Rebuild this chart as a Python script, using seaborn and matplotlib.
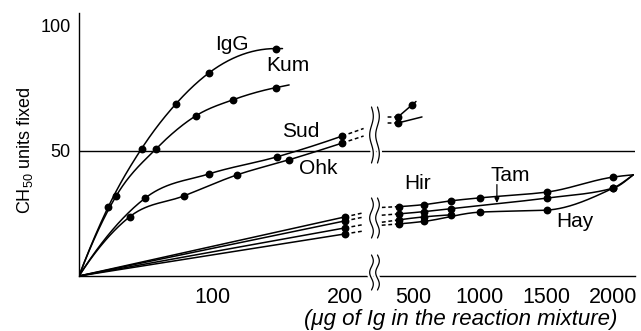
import numpy as np
import matplotlib
matplotlib.use("Agg")
import matplotlib.pyplot as plt
import seaborn as sns
from matplotlib.lines import Line2D

# ---------------- data ----------------
# low-dose range (0-200 ug of Ig); every curve starts at the origin
igg_x = [22, 47, 73, 98, 148]
igg_y = [27.6, 50.8, 68.8, 81.2, 90.8]
kum_x = [28, 58, 88, 116, 148]
kum_y = [32.0, 50.8, 64.0, 70.4, 75.2]
sud_x = [50, 98, 149, 198]
sud_y = [31.2, 40.8, 47.6, 55.9]
ohk_x = [38, 79, 119, 158, 198]
ohk_y = [23.6, 32.0, 40.4, 46.4, 53.1]

# high-dose range (beyond the axis break)
sud_hi_x = [385, 490]
sud_hi_y = [63.5, 68.3]
ohk_hi_x = [385]
ohk_hi_y = [61.1]
ohk_hi_end = (565, 63.5)

low_x = [200]
hir_lo_y = [23.6]
tam_lo_y = [22.0]
mid_lo_y = [19.2]
hay_lo_y = [16.8]

hir_x = [390, 580, 780, 1000, 1500, 2000]
hir_y = [27.7, 28.5, 30.0, 31.2, 33.5, 39.5]
tam_x = [390, 580, 780, 1500, 2000]
tam_y = [24.8, 25.7, 26.9, 31.1, 35.1]
mid_x = [390, 580, 780]
mid_y = [22.4, 23.6, 24.4]
hay_x = [390, 580, 1000, 1500, 2000]
hay_y = [20.8, 21.8, 25.5, 26.3, 35.1]
low_end = (2150, 40.4)

y_ticks = [50, 100]
x_ticks_lo = [100, 200]
x_ticks_hi = [500, 1000, 1500, 2000]
reference_level = 50


# ---------------- interpolation helpers ----------------
def knot_slopes(x, y, kind):
    h = np.diff(x)
    d = np.diff(y) / h
    n = len(x)
    m = np.zeros(n)
    if n == 2:
        m[:] = d[0]
        return m
    for k in range(1, n - 1):
        if kind == "bessel":
            m[k] = (h[k] * d[k - 1] + h[k - 1] * d[k]) / (h[k - 1] + h[k])
        elif d[k - 1] * d[k] > 0:
            w1 = 2 * h[k] + h[k - 1]
            w2 = h[k] + 2 * h[k - 1]
            m[k] = (w1 + w2) / (w1 / d[k - 1] + w2 / d[k])

    def end(h0, h1, d0, d1):
        s = ((2 * h0 + h1) * d0 - h0 * d1) / (h0 + h1)
        if np.sign(s) != np.sign(d0):
            s = 0.0
        elif np.sign(d0) != np.sign(d1) and abs(s) > 3 * abs(d0):
            s = 3 * d0
        return s

    m[0] = end(h[0], h[1], d[0], d[1])
    m[-1] = end(h[-1], h[-2], d[-1], d[-2])
    return m


def smooth(x, y, xs, kind="pchip"):
    x = np.asarray(x, float)
    y = np.asarray(y, float)
    m = knot_slopes(x, y, kind)
    out = np.empty(len(xs))
    for i, t in enumerate(xs):
        if t <= x[0]:
            out[i] = y[0] + m[0] * (t - x[0])
        elif t >= x[-1]:
            out[i] = y[-1] + m[-1] * (t - x[-1])
        else:
            k = min(np.searchsorted(x, t) - 1, len(x) - 2)
            h = x[k + 1] - x[k]
            s = (t - x[k]) / h
            h00 = 2 * s**3 - 3 * s**2 + 1
            h10 = s**3 - 2 * s**2 + s
            h01 = -2 * s**3 + 3 * s**2
            h11 = s**3 - s**2
            out[i] = h00 * y[k] + h10 * h * m[k] + h01 * y[k + 1] + h11 * h * m[k + 1]
    return out, m


LW = 1.1
DASH = (0, (2.5, 1.8))


def draw_curve(ax, vx, vy, tail=0.0, kind="pchip"):
    xs = np.linspace(vx[0], vx[-1] + tail, 300)
    ys, m = smooth(vx, vy, xs, kind)
    sns.lineplot(x=xs, y=ys, ax=ax, color="black", lw=LW, sort=False,
                 estimator=None)
    return m


def draw_dots(ax, x, y):
    sns.scatterplot(x=x, y=y, ax=ax, color="black", s=32, linewidth=0,
                    zorder=4, legend=False)


def stub(ax, x0, y0, slope, x1):
    xs = np.array([x0, x1])
    ys = y0 + slope * (xs - x0)
    sns.lineplot(x=xs, y=ys, ax=ax, color="black", lw=LW, sort=False,
                 estimator=None, linestyle=DASH)


# ---------------- figure ----------------
sns.set_theme(style="white")
plt.rcParams["font.family"] = ["Liberation Sans", "DejaVu Sans"]
plt.rcParams["mathtext.fontset"] = "custom"
plt.rcParams["mathtext.rm"] = "Liberation Sans"
plt.rcParams["axes.linewidth"] = 1.0

W, H = 641, 331
fig = plt.figure(figsize=(W / 100, H / 100), dpi=100)
fig.patch.set_facecolor("white")

y0_px, y1_px = 276, 13


def box(x0, x1):
    return [x0 / W, (H - y0_px) / H, (x1 - x0) / W, (y0_px - y1_px) / H]


axL = fig.add_axes(box(79, 370))
axR = fig.add_axes(box(370, 635))
for ax in (axL, axR):
    ax.set_ylim(0, 105)
    ax.set_facecolor("none")
    for s in ("top", "right"):
        ax.spines[s].set_visible(False)
    ax.spines["bottom"].set_color("black")
    ax.axhline(reference_level, color="black", lw=1.0, zorder=1)
axL.set_xlim(0, 218.8)
axR.set_xlim(175, 2163)
axL.spines["left"].set_color("black")
axR.spines["left"].set_visible(False)

# low-dose curves (smooth, from the origin)
draw_curve(axL, [0] + igg_x, [0] + igg_y, tail=5, kind="bessel")
draw_curve(axL, [0] + kum_x, [0] + kum_y, tail=10, kind="bessel")
m_sud = draw_curve(axL, [0] + sud_x, [0] + sud_y, kind="bessel")
m_ohk = draw_curve(axL, [0] + ohk_x, [0] + ohk_y, kind="bessel")
for x, y in ((igg_x, igg_y), (kum_x, kum_y), (sud_x, sud_y), (ohk_x, ohk_y)):
    draw_dots(axL, x, y)
stub(axL, sud_x[-1], sud_y[-1], m_sud[-1], 214)
stub(axL, ohk_x[-1], ohk_y[-1], m_ohk[-1], 214)

# lower group, straight from the origin to 200
for ly in (hir_lo_y, tam_lo_y, mid_lo_y, hay_lo_y):
    xs = np.array([0] + low_x, float)
    ys = np.array([0] + ly, float)
    sns.lineplot(x=xs, y=ys, ax=axL, color="black", lw=LW, sort=False,
                 estimator=None)
    draw_dots(axL, low_x, ly)
    stub(axL, low_x[-1], ly[-1], ly[-1] / low_x[-1], 214)

# high-dose side
m = draw_curve(axR, sud_hi_x, sud_hi_y, tail=30)
draw_dots(axR, sud_hi_x, sud_hi_y)
stub(axR, sud_hi_x[0], sud_hi_y[0], 0.0, 300)

ox = ohk_hi_x + [ohk_hi_end[0]]
oy = ohk_hi_y + [ohk_hi_end[1]]
m = draw_curve(axR, ox, oy)
draw_dots(axR, ohk_hi_x, ohk_hi_y)
stub(axR, ox[0], oy[0], 0.0, 300)

curves_hi = {}
for name, cx, cy, to_end in (("hir", hir_x, hir_y, True),
                             ("tam", tam_x, tam_y, True),
                             ("mid", mid_x, mid_y, False),
                             ("hay", hay_x, hay_y, True)):
    vx = list(cx) + ([low_end[0]] if to_end else [])
    vy = list(cy) + ([low_end[1]] if to_end else [])
    m = draw_curve(axR, vx, vy)
    draw_dots(axR, cx, cy)
    stub(axR, vx[0], vy[0], m[0], 262)
    curves_hi[name] = (vx, vy)

# ticks
tick_kw = dict(direction="in", length=4, width=1.0, color="black")
axL.set_yticks(y_ticks)
axL.set_yticklabels([str(v) for v in y_ticks], fontsize=13)
axL.tick_params(axis="y", pad=6, **tick_kw)
axL.set_xticks(x_ticks_lo)
axL.set_xticks(np.arange(20, 200, 20), minor=True)
axL.set_xticklabels([str(v) for v in x_ticks_lo], fontsize=15.5)
axL.tick_params(axis="x", which="both", pad=8, **tick_kw)
axR.set_yticks([])
axR.set_xticks(x_ticks_hi)
axR.set_xticklabels([str(v) for v in x_ticks_hi], fontsize=15.5)
axR.tick_params(axis="x", pad=8, **tick_kw)
for ax in (axL, axR):
    ax.tick_params(axis="both", labelcolor="black")

# curve labels
lab = dict(fontsize=15, color="black", ha="center", va="center")
axL.text(115, 92.6, "IgG", **lab)
axL.text(157, 84.2, "Kum", **lab)
axL.text(167, 57.5, "Sud", **lab)
axL.text(180, 43.1, "Ohk", **lab)
axR.text(535, 37.1, "Hir", **lab)
axR.text(1225, 40.0, "Tam", **lab)
axR.text(1712, 21.6, "Hay", **lab)

# arrow from the Tam label down to its curve
ax_arrow = 1127
tip, _ = smooth(*curves_hi["tam"], [ax_arrow])
axR.annotate("", xy=(ax_arrow, tip[0] + 0.3), xytext=(ax_arrow, 36.5),
             arrowprops=dict(arrowstyle="-|>", lw=0.9, color="black",
                             mutation_scale=7, shrinkA=0, shrinkB=0))

# axis titles
fig.text(25 / W, 1 - 150 / H, "CH$_{50}$ units fixed", rotation=90,
         ha="center", va="center", fontsize=13, color="black")
fig.text(461 / W, 1 - 320 / H, "(\u03bcg of Ig in the reaction mixture)",
         ha="center", va="center", fontsize=16, style="italic",
         color="black")

# wavy break marks
t = np.linspace(0, 1, 60)
for top, bot in ((107, 163), (198, 238), (255, 290)):
    for color, lw in (("white", 4), ("black", 0.9)):
        for xc in (371.5, 377.5):
            px = xc + 1.8 * np.sin(t * 3 * np.pi)
            py = top + (bot - top) * t
            fig.add_artist(Line2D(px / W, 1 - py / H, color=color, lw=lw,
                                  transform=fig.transFigure,
                                  zorder=5 if color == "white" else 6))

fig.savefig("out.png", dpi=100, facecolor="white")
